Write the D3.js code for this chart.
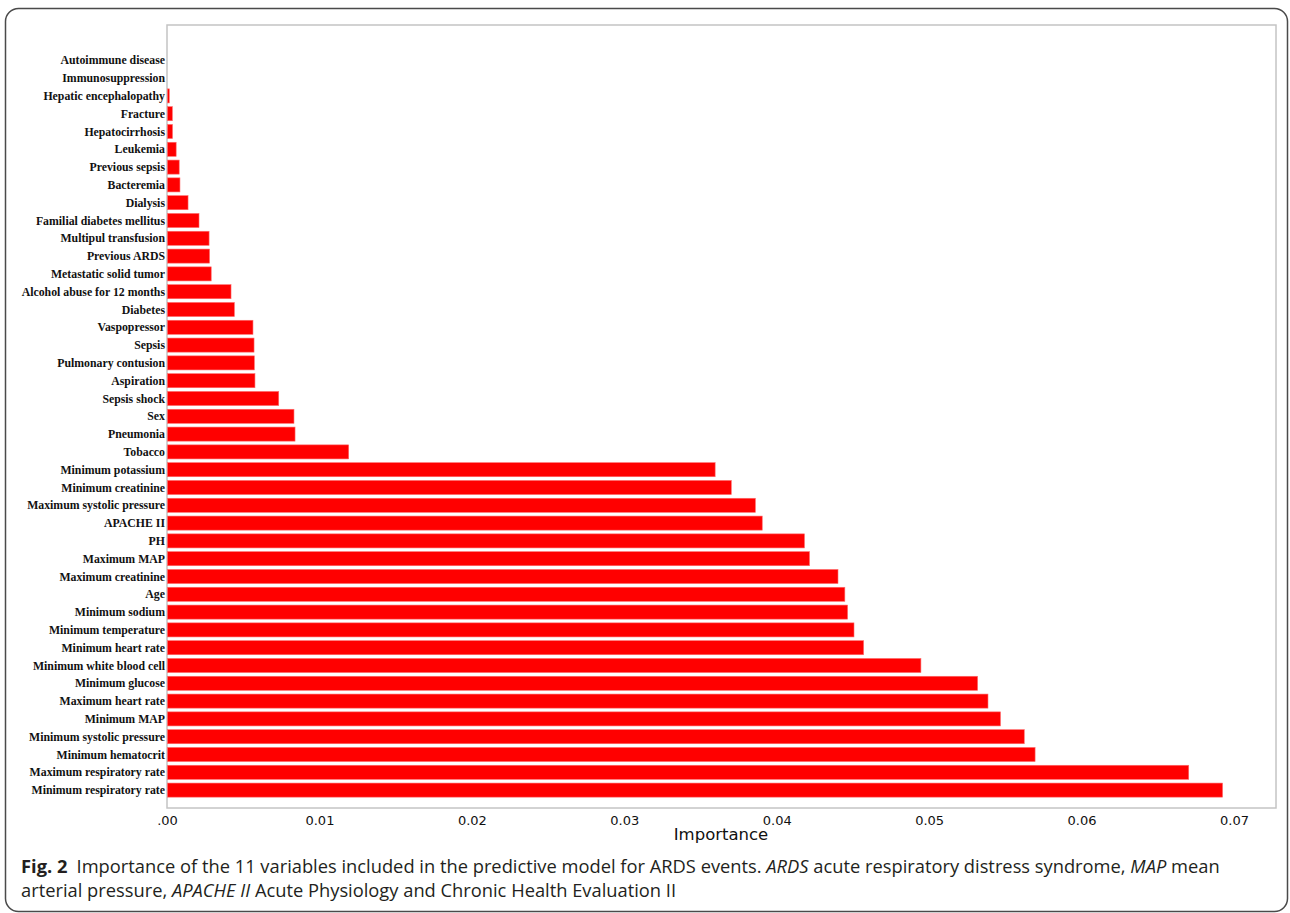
<!DOCTYPE html>
<html>
<head>
<meta charset="utf-8">
<script src="https://cdn.jsdelivr.net/npm/d3@7/dist/d3.min.js"></script>
<style>
  html, body { margin: 0; padding: 0; background: #fff; }
  svg { display: block; }
</style>
</head>
<body>
<svg id="chart" width="1290" height="913"></svg>
<script>
// ---- data (top to bottom as drawn) ----
const categories = [
  "Autoimmune disease", "Immunosuppression", "Hepatic encephalopathy", "Fracture",
  "Hepatocirrhosis", "Leukemia", "Previous sepsis", "Bacteremia", "Dialysis",
  "Familial diabetes mellitus", "Multipul transfusion", "Previous ARDS",
  "Metastatic solid tumor", "Alcohol abuse for 12 months", "Diabetes", "Vaspopressor",
  "Sepsis", "Pulmonary contusion", "Aspiration", "Sepsis shock", "Sex", "Pneumonia",
  "Tobacco", "Minimum potassium", "Minimum creatinine", "Maximum systolic pressure",
  "APACHE II", "PH", "Maximum  MAP", "Maximum creatinine", "Age", "Minimum sodium",
  "Minimum temperature", "Minimum heart rate", "Minimum white blood cell",
  "Minimum glucose", "Maximum heart rate", "Minimum MAP", "Minimum systolic pressure",
  "Minimum hematocrit", "Maximum respiratory rate", "Minimum respiratory rate"
];
const importance = [
  0.0, 0.0, 0.00015, 0.00035,
  0.00036, 0.0006, 0.0008, 0.00085, 0.00138,
  0.0021, 0.00276, 0.00279,
  0.0029, 0.0042, 0.00442, 0.00564,
  0.00571, 0.00573, 0.00577, 0.00733, 0.00833, 0.0084,
  0.01192, 0.03596, 0.03702, 0.0386,
  0.03905, 0.04182, 0.04215, 0.04402, 0.04447, 0.04465,
  0.04507, 0.0457, 0.04946,
  0.05318, 0.05386, 0.05468, 0.05624,
  0.05695, 0.06703, 0.06925
];
const tickValues = [0, 0.01, 0.02, 0.03, 0.04, 0.05, 0.06, 0.07];
const tickLabels = [".00", "0.01", "0.02", "0.03", "0.04", "0.05", "0.06", "0.07"];
const axisTitle = "Importance";

const svg = d3.select("#chart");

// outer rounded frame
svg.append("rect")
  .attr("x", 5.5).attr("y", 8.5).attr("width", 1282).attr("height", 903)
  .attr("rx", 13).attr("ry", 13)
  .attr("fill", "none").attr("stroke", "#4a4a4a").attr("stroke-width", 1.5);

// plot area
const plot = { left: 167, right: 1276, top: 25, bottom: 808 };

const x = d3.scaleLinear().domain([0, 0.07]).range([plot.left, 1234]);
const y = d3.scaleBand().domain(categories).range([51.4, 799]).paddingInner(0.21).paddingOuter(0.105);

// frame of plot
svg.append("rect")
  .attr("x", plot.left).attr("y", plot.top)
  .attr("width", plot.right - plot.left).attr("height", plot.bottom - plot.top)
  .attr("fill", "none").attr("stroke", "#c4c4c4").attr("stroke-width", 1.5);

// bars
svg.append("g").selectAll("rect")
  .data(categories.map((c, i) => ({ c, v: importance[i] })))
  .join("rect")
  .attr("x", x(0) + 0.5)
  .attr("y", d => y(d.c))
  .attr("width", d => Math.max(0, x(d.v) - x(0) - 0.5))
  .attr("height", y.bandwidth())
  .attr("fill", "#ff0000")
  .attr("stroke", d => d.v > 0 ? "#ff6a6a" : "none")
  .attr("stroke-width", 0.6);

// category labels
svg.append("g").selectAll("text")
  .data(categories)
  .join("text")
  .attr("x", plot.left - 2)
  .attr("y", d => y(d) + y.bandwidth() / 2)
  .attr("dy", "0.35em")
  .attr("text-anchor", "end")
  .attr("font-family", "'Liberation Serif', 'Times New Roman', serif")
  .attr("font-weight", "bold")
  .attr("font-size", 11.8)
  .attr("fill", "#111")
  .text(d => d);

// x axis
const xAxis = d3.axisBottom(x)
  .tickValues(tickValues)
  .tickFormat((d, i) => tickLabels[i])
  .tickSize(0)
  .tickPadding(8);
const gx = svg.append("g")
  .attr("transform", `translate(0,${plot.bottom})`)
  .call(xAxis);
gx.select(".domain").remove();
gx.selectAll("text")
  .attr("font-family", "'DejaVu Sans', sans-serif")
  .attr("font-size", 13)
  .attr("fill", "#111");

svg.append("text")
  .attr("x", 721).attr("y", 840)
  .attr("text-anchor", "middle")
  .attr("font-family", "'DejaVu Sans', sans-serif")
  .attr("font-size", 16.5)
  .attr("fill", "#111")
  .text(axisTitle);

// caption
const capFont = "'Open Sans', 'Noto Sans', sans-serif";
const line1 = svg.append("text")
  .attr("x", 21).attr("y", 873)
  .attr("font-family", capFont).attr("font-size", 17).attr("fill", "#231f20");
line1.append("tspan").attr("font-weight", "bold").text("Fig. 2");
line1.append("tspan").text("\u2002Importance of the 11 variables included in the predictive model for ARDS events. ");
line1.append("tspan").attr("font-style", "italic").text("ARDS");
line1.append("tspan").text(" acute respiratory distress syndrome, ");
line1.append("tspan").attr("font-style", "italic").text("MAP");
line1.append("tspan").text(" mean");

const line2 = svg.append("text")
  .attr("x", 21).attr("y", 897)
  .attr("font-family", capFont).attr("font-size", 17).attr("fill", "#231f20");
line2.append("tspan").text("arterial pressure, ");
line2.append("tspan").attr("font-style", "italic").text("APACHE II");
line2.append("tspan").text(" Acute Physiology and Chronic Health Evaluation II");

// fit caption to reference width (line 1 spans ~1200px)
const w1 = line1.node().getComputedTextLength();
const fs = 17 * 1200 / w1;
line1.attr("font-size", fs);
line2.attr("font-size", fs);
</script>
</body>
</html>
